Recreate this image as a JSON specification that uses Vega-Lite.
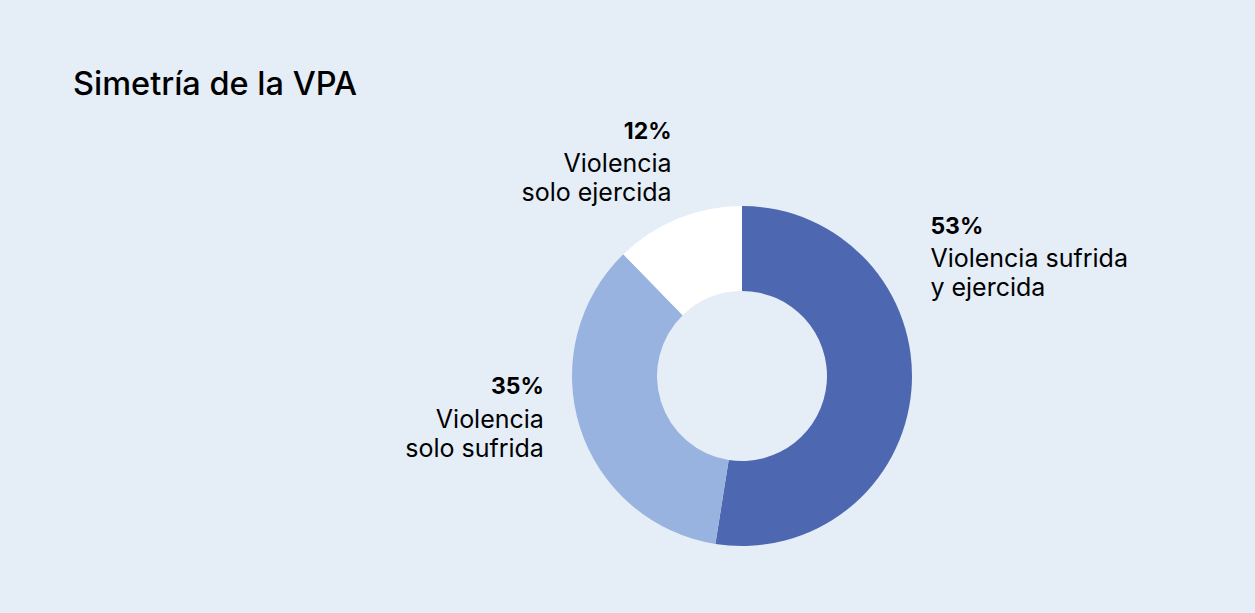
{
  "$schema": "https://vega.github.io/schema/vega-lite/v6.json",
  "autosize": {"type": "none"},
  "width": 1024,
  "height": 474,
  "padding": {"left": 230, "top": 139, "right": 1, "bottom": 0},
  "background": "#e5edf7",
  "config": {"view": {"stroke": null}, "font": "Inter"},
  "title": {
    "text": "Simetría de la VPA",
    "anchor": "start",
    "frame": "group",
    "orient": "top",
    "baseline": "alphabetic",
    "offset": -7,
    "dx": -157,
    "font": "Inter",
    "fontSize": 32.5,
    "fontWeight": 500,
    "color": "#000000"
  },
  "data": {
    "values": [
      {"categoria": "Violencia sufrida y ejercida", "pct": 52.5, "pctTexto": "53%", "etiqueta": "Violencia sufrida\ny ejercida"},
      {"categoria": "Violencia solo sufrida", "pct": 35.2, "pctTexto": "35%", "etiqueta": "Violencia\nsolo sufrida"},
      {"categoria": "Violencia solo ejercida", "pct": 12.3, "pctTexto": "12%", "etiqueta": "Violencia\nsolo ejercida"}
    ]
  },
  "encoding": {
    "theta": {"field": "pct", "type": "quantitative", "stack": true},
    "order": {"field": "pct", "type": "quantitative", "sort": "descending"},
    "color": {
      "field": "categoria",
      "type": "nominal",
      "scale": {
        "domain": ["Violencia sufrida y ejercida", "Violencia solo sufrida", "Violencia solo ejercida"],
        "range": ["#4e67b1", "#98b3df", "#ffffff"]
      },
      "legend": null
    }
  },
  "layer": [
    {
      "mark": {"type": "arc", "outerRadius": 170, "innerRadius": 85, "stroke": null}
    },
    {
      "mark": {
        "type": "text",
        "radius": 200,
        "font": "Inter",
        "fontSize": 23,
        "fontWeight": 700,
        "baseline": "alphabetic",
        "align": {"expr": "datum.pctTexto == '53%' ? 'left' : 'right'"},
        "dx": {"expr": "datum.pctTexto == '53%' ? -11 : (datum.pctTexto == '12%' ? 5 : -7.5)"},
        "dy": {"expr": "datum.pctTexto == '53%' ? -158 : (datum.pctTexto == '12%' ? -52 : -42.5)"}
      },
      "encoding": {
        "text": {"field": "pctTexto"},
        "color": {"value": "#000000"}
      }
    },
    {
      "mark": {
        "type": "text",
        "radius": 200,
        "font": "Inter",
        "fontSize": 25,
        "fontWeight": 400,
        "lineBreak": "\n",
        "lineHeight": 29,
        "baseline": "alphabetic",
        "align": {"expr": "datum.pctTexto == '53%' ? 'left' : 'right'"},
        "dx": {"expr": "datum.pctTexto == '53%' ? -11 : (datum.pctTexto == '12%' ? 5 : -7.5)"},
        "dy": {"expr": "datum.pctTexto == '53%' ? -124.5 : (datum.pctTexto == '12%' ? -18.5 : -9)"}
      },
      "encoding": {
        "text": {"field": "etiqueta"},
        "color": {"value": "#000000"}
      }
    }
  ]
}
